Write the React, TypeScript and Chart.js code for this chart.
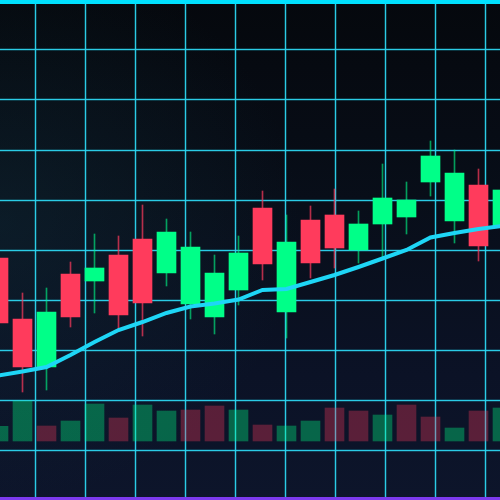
import React, { useEffect, useRef } from "react";
import { Chart, registerables } from "chart.js";

Chart.register(...registerables);

// Candle index positions (one per session)
const sessions = [0, 1, 2, 3, 4, 5, 6, 7, 8, 9, 10, 11, 12, 13, 14, 15, 16, 17, 18, 19, 20, 21];
const opens = [128.4, 116.2, 106.6, 125.2, 123.8, 129.0, 132.2, 125.4, 119.2, 116.6, 122.0, 138.4, 117.6, 136.0, 137.0, 130.0, 135.2, 136.6, 143.6, 135.8, 143.0, 134.6];
const closes = [115.4, 106.6, 117.6, 116.6, 126.4, 117.0, 119.4, 133.6, 130.6, 125.4, 129.4, 127.2, 131.6, 127.4, 130.4, 135.2, 140.4, 140.0, 148.8, 145.4, 130.8, 142.0];
const highs = [130.0, 121.4, 122.4, 127.6, 133.2, 132.8, 139.0, 136.2, 133.6, 129.0, 132.8, 141.8, 137.0, 138.8, 142.2, 137.8, 147.2, 143.6, 151.8, 150.0, 146.2, 145.0];
const lows = [114.0, 101.6, 102.0, 114.6, 117.4, 113.8, 112.8, 122.8, 116.2, 113.2, 119.0, 124.0, 112.4, 124.4, 126.4, 127.4, 128.6, 133.2, 140.8, 131.4, 127.8, 132.0];
const movingAverage = [104.9, 105.7, 106.6, 109.0, 111.6, 114.0, 115.6, 117.4, 118.7, 119.3, 120.1, 122.0, 122.2, 123.6, 125.0, 126.6, 128.3, 130.0, 132.5, 133.4, 134.2, 134.8];
const volumes = [147, 400, 150, 200, 370, 230, 360, 300, 310, 350, 310, 160, 150, 200, 330, 300, 260, 360, 240, 130, 300, 330];
const volumeUp = [true, true, false, true, true, false, true, true, false, false, true, false, true, true, false, false, true, false, false, true, false, true];
const gridXTicks = [35, 85, 135, 185, 235, 285, 335, 385, 435, 485];
const gridYTicks = [50, 100, 150, 200, 250, 300, 350, 400, 450];

const UP = "#00ff88";
const DOWN = "#ff3b5c";

export default function App() {
  const canvasRef = useRef<HTMLCanvasElement | null>(null);

  useEffect(() => {
    const canvas = canvasRef.current;
    if (!canvas) return;
    const isUp = sessions.map((_, i) => closes[i] >= opens[i]);

    const gridAxis = (pos: "bottom" | "left", ticks: number[], width: number, color: string) => ({
      type: "linear" as const,
      position: pos,
      min: 0,
      max: 500,
      offset: false,
      border: { display: false },
      ticks: { display: false },
      grid: { color, lineWidth: width, drawTicks: false, offset: false },
      afterBuildTicks: (axis: any) => {
        axis.ticks = ticks.map((v) => ({ value: v }));
      },
    });

    const chart = new Chart(canvas, {
      type: "bar",
      data: {
        datasets: [
          {
            type: "line",
            label: "MA",
            data: sessions.map((s, i) => ({ x: s, y: movingAverage[i] })),
            borderColor: "#1ed6f6",
            borderWidth: 4,
            pointRadius: 0,
            tension: 0,
            fill: false,
            yAxisID: "y",
            xAxisID: "x",
            order: 0,
          } as any,
          {
            type: "bar",
            label: "Body",
            data: sessions.map((s, i) => ({ x: s, y: [opens[i], closes[i]] })),
            backgroundColor: isUp.map((u) => (u ? UP : DOWN)),
            borderWidth: 0,
            barThickness: 19,
            grouped: false,
            yAxisID: "y",
            xAxisID: "x",
            order: 1,
          } as any,
          {
            type: "bar",
            label: "Wick",
            data: sessions.map((s, i) => ({ x: s, y: [lows[i], highs[i]] })),
            backgroundColor: isUp.map((u) => (u ? "rgba(0,255,136,0.6)" : "rgba(255,59,92,0.7)")),
            borderWidth: 0,
            barThickness: 1,
            grouped: false,
            yAxisID: "y",
            xAxisID: "x",
            order: 2,
          } as any,
          {
            type: "bar",
            label: "Volume",
            data: sessions.map((s, i) => ({ x: s, y: volumes[i] })),
            backgroundColor: volumeUp.map((u) => (u ? "rgba(0,255,136,0.35)" : "rgba(255,59,92,0.32)")),
            borderWidth: 0,
            barThickness: 19,
            grouped: false,
            yAxisID: "vol",
            xAxisID: "x",
            order: 3,
          } as any,
        ],
      },
      options: {
        animation: false,
        responsive: false,
        maintainAspectRatio: false,
        layout: { padding: 0 },
        plugins: { legend: { display: false }, tooltip: { enabled: false } },
        scales: {
          gxGlow: gridAxis("bottom", gridXTicks, 3, "rgba(34,211,238,0.22)"),
          gyGlow: gridAxis("left", gridYTicks, 3, "rgba(34,211,238,0.22)"),
          gx: gridAxis("bottom", gridXTicks, 1, "rgba(45,212,238,0.95)"),
          gy: gridAxis("left", gridYTicks, 1, "rgba(45,212,238,0.95)"),
          x: {
            type: "linear",
            display: false,
            offset: false,
            grid: { offset: false },
            min: 0.0625,
            max: 0.0625 + 500 / 24,
          },
          y: { type: "linear", display: false, min: 80, max: 180 },
          vol: { type: "linear", display: false, min: -590, max: 4410 },
        },
      } as any,
    });

    return () => chart.destroy();
  }, []);

  return (
    <div
      style={{
        position: "fixed",
        left: 0,
        top: 0,
        width: 500,
        height: 500,
        overflow: "hidden",
        background:
          "radial-gradient(ellipse 60% 55% at 0% 45%, rgba(18,52,64,0.35), rgba(0,0,0,0) 100%), linear-gradient(180deg, #05080d 0%, #080e19 40%, #0b1226 75%, #0d152b 100%)",
      }}
    >
      <canvas ref={canvasRef} width={500} height={500} style={{ display: "block", width: 500, height: 500 }} />
      <div style={{ position: "absolute", left: 0, top: 0, width: 500, height: 4, background: "#00e1ff" }} />
      <div style={{ position: "absolute", left: 0, bottom: 0, width: 500, height: 3, background: "#7c3aed" }} />
    </div>
  );
}
